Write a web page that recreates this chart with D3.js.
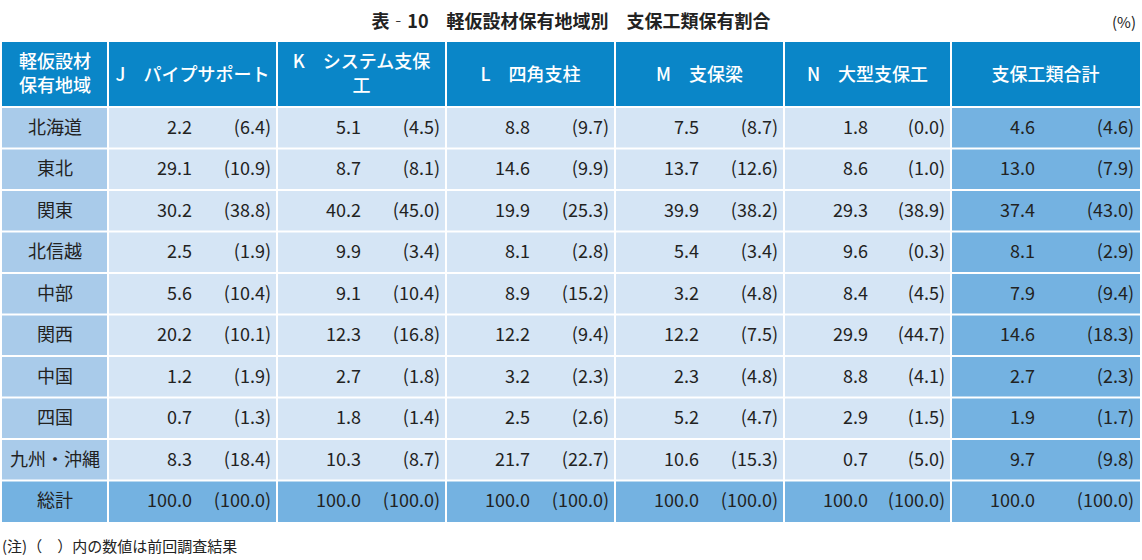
<!DOCTYPE html>
<html><head><meta charset="utf-8">
<script src="https://cdn.jsdelivr.net/npm/d3@7"></script>
<style>body{margin:0;background:#fff}svg{font-family:"Noto Sans CJK JP","Noto Sans",sans-serif}</style>
</head><body><svg id="c" width="1142" height="560"></svg>
<script>
// Regions and column headers
const regions = ["北海道","東北","関東","北信越","中部","関西","中国","四国","九州・沖縄","総計"];
const headers = [["軽仮設材","保有地域"],["J　パイプサポート"],["K　システム支保","工"],["L　四角支柱"],["M　支保梁"],["N　大型支保工"],["支保工類合計"]];
// current (previous) per column J..N, total
const J = [[2.2,6.4],[29.1,10.9],[30.2,38.8],[2.5,1.9],[5.6,10.4],[20.2,10.1],[1.2,1.9],[0.7,1.3],[8.3,18.4],[100.0,100.0]];
const K = [[5.1,4.5],[8.7,8.1],[40.2,45.0],[9.9,3.4],[9.1,10.4],[12.3,16.8],[2.7,1.8],[1.8,1.4],[10.3,8.7],[100.0,100.0]];
const L = [[8.8,9.7],[14.6,9.9],[19.9,25.3],[8.1,2.8],[8.9,15.2],[12.2,9.4],[3.2,2.3],[2.5,2.6],[21.7,22.7],[100.0,100.0]];
const M = [[7.5,8.7],[13.7,12.6],[39.9,38.2],[5.4,3.4],[3.2,4.8],[12.2,7.5],[2.3,4.8],[5.2,4.7],[10.6,15.3],[100.0,100.0]];
const N = [[1.8,0.0],[8.6,1.0],[29.3,38.9],[9.6,0.3],[8.4,4.5],[29.9,44.7],[8.8,4.1],[2.9,1.5],[0.7,5.0],[100.0,100.0]];
const T = [[4.6,4.6],[13.0,7.9],[37.4,43.0],[8.1,2.9],[7.9,9.4],[14.6,18.3],[2.7,2.3],[1.9,1.7],[9.7,9.8],[100.0,100.0]];
const cols = [J,K,L,M,N,T];

const svg = d3.select("#c");
const colEdges = [2,108,277,446,615,784,951,1140];
const y = d3.scaleBand().domain(regions).range([107,522]);
const HEAD = "#0a86c8", BODY = "#d5e5f5", REG = "#a9cbea", DARK = "#74b2e1";

svg.append("text").attr("x",571).attr("y",28).attr("text-anchor","middle")
  .attr("font-size",18).attr("font-weight","bold").attr("fill","#222").text("表‐10　軽仮設材保有地域別　支保工類保有割合");
svg.append("text").attr("x",1136).attr("y",28).attr("text-anchor","end")
  .attr("font-size",15).attr("fill","#222").text("(%)");

// header
headers.forEach((h,i)=>{
  const x0 = colEdges[i], x1 = colEdges[i+1];
  svg.append("rect").attr("x",x0).attr("y",42).attr("width",x1-x0).attr("height",65).attr("fill",HEAD);
  const t = svg.append("text").attr("fill","#fff").attr("font-size",18).attr("font-weight",500)
    .attr("text-anchor","middle");
  h.forEach((s,k)=>{
    t.append("tspan").attr("x",(x0+x1)/2).attr("y",h.length===1?81:68+k*24).text(s);
  });
});

const fmt = d3.format(".1f");
regions.forEach((r,ri)=>{
  const yy = y(r), h = y.bandwidth(), total = ri===regions.length-1;
  svg.append("rect").attr("x",colEdges[0]).attr("y",yy).attr("width",106).attr("height",h)
    .attr("fill",total?DARK:REG);
  svg.append("text").attr("x",55).attr("y",yy+h/2+6).attr("text-anchor","middle")
    .attr("font-size",18).attr("fill","#222").text(r);
  cols.forEach((c,ci)=>{
    const x0 = colEdges[ci+1], x1 = colEdges[ci+2];
    const dark = total || ci===5;
    svg.append("rect").attr("x",x0).attr("y",yy).attr("width",x1-x0).attr("height",h).attr("fill",dark?DARK:BODY);
    svg.append("text").attr("x",x0+84).attr("y",yy+h/2+6).attr("text-anchor","end")
      .attr("font-size",18).attr("fill","#222").text(fmt(c[ri][0]));
    svg.append("text").attr("x",x1-6).attr("y",yy+h/2+6).attr("text-anchor","end")
      .attr("font-size",18).attr("fill","#222").text("(" + fmt(c[ri][1]) + ")");
  });
});

// white grid lines
colEdges.slice(1,-1).forEach(x=>svg.append("line").attr("x1",x).attr("x2",x).attr("y1",42).attr("y2",522).attr("stroke","#fff").attr("stroke-width",2));
regions.forEach(r=>svg.append("line").attr("x1",2).attr("x2",1140).attr("y1",y(r)).attr("y2",y(r)).attr("stroke","#fff").attr("stroke-width",2));

svg.append("text").attr("x",2).attr("y",552).attr("font-size",15).attr("fill","#222").text("(注)（　）内の数値は前回調査結果");
</script></body></html>
